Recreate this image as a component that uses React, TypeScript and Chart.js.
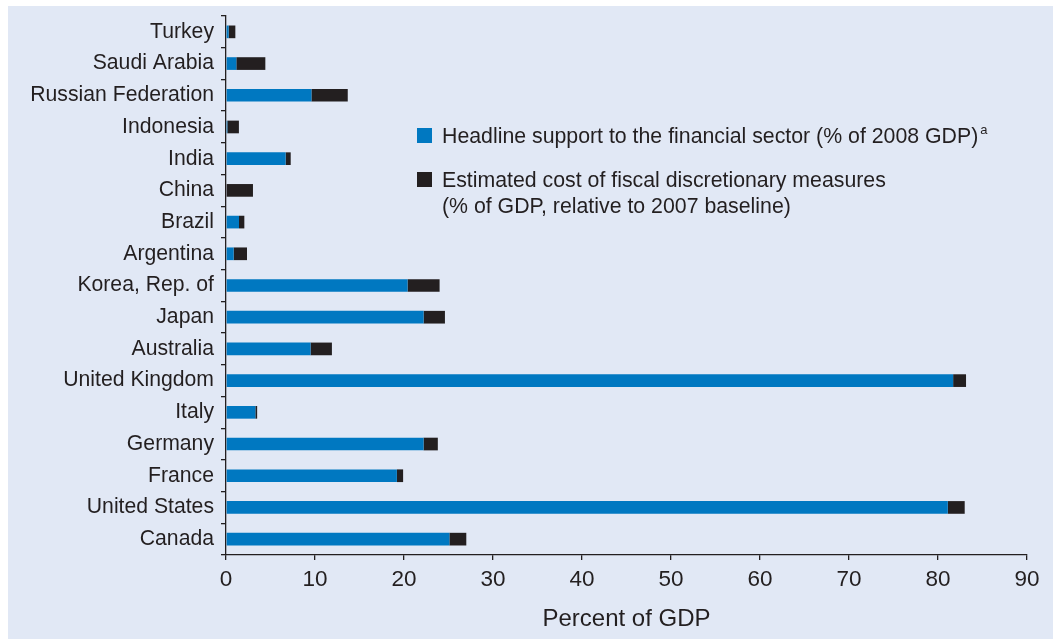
import React, { useEffect, useRef } from "react";
import { Chart, registerables } from "chart.js";

Chart.register(...registerables);

const categories = [
  "Turkey",
  "Saudi Arabia",
  "Russian Federation",
  "Indonesia",
  "India",
  "China",
  "Brazil",
  "Argentina",
  "Korea, Rep. of",
  "Japan",
  "Australia",
  "United Kingdom",
  "Italy",
  "Germany",
  "France",
  "United States",
  "Canada",
];

const headlineSupport = [0.3, 1.16, 9.6, 0.15, 6.7, 0, 1.46, 0.86, 20.4, 22.2, 9.5, 81.7, 3.3, 22.2, 19.2, 81.1, 25.1];
const fiscalCost = [0.75, 3.26, 4.08, 1.3, 0.57, 3.03, 0.6, 1.5, 3.6, 2.4, 2.4, 1.45, 0.2, 1.6, 0.7, 1.9, 1.9];

const xTicks = [0, 10, 20, 30, 40, 50, 60, 70, 80, 90];

const legendLine1 = "Headline support to the financial sector (% of 2008 GDP)";
const legendSup = "a";
const legendLine2a = "Estimated cost of fiscal discretionary measures";
const legendLine2b = "(% of GDP, relative to 2007 baseline)";
const xTitle = "Percent of GDP";

const BLUE = "#0078c1";
const DARK = "#231f20";
const BG = "#e1e8f5";
const FONT = "'Liberation Sans', Arial, Helvetica, sans-serif";

const legendPlugin = {
  id: "customLegend",
  afterDraw(chart: any) {
    const ctx = chart.ctx;
    ctx.save();
    ctx.fillStyle = BLUE;
    ctx.fillRect(409, 122, 15, 15);
    ctx.fillStyle = DARK;
    ctx.fillRect(409, 166, 15, 15);
    ctx.fillStyle = DARK;
    ctx.textAlign = "left";
    ctx.textBaseline = "alphabetic";
    ctx.font = `21.3px ${FONT}`;
    ctx.fillText(legendLine1, 434, 137);
    const w = ctx.measureText(legendLine1).width;
    ctx.fillText(legendLine2a, 434, 181);
    ctx.fillText(legendLine2b, 434, 207);
    ctx.font = `13px ${FONT}`;
    ctx.fillText(legendSup, 434 + w + 2, 128);
    ctx.restore();
  },
};

export default function App() {
  const canvasRef = useRef<HTMLCanvasElement | null>(null);

  useEffect(() => {
    if (!canvasRef.current) return;
    const chart = new Chart(canvasRef.current, {
      type: "bar",
      data: {
        labels: categories,
        datasets: [
          {
            label: legendLine1,
            data: headlineSupport,
            backgroundColor: BLUE,
            barPercentage: 0.4,
            categoryPercentage: 1,
          },
          {
            label: legendLine2a + " " + legendLine2b,
            data: fiscalCost,
            backgroundColor: DARK,
            barPercentage: 0.4,
            categoryPercentage: 1,
          },
        ],
      },
      options: {
        indexAxis: "y",
        animation: false,
        responsive: true,
        maintainAspectRatio: false,
        layout: { padding: { top: 10, right: 26, left: 0, bottom: 0 } },
        plugins: {
          legend: { display: false },
          tooltip: { enabled: false },
          title: { display: false },
        },
        scales: {
          x: {
            stacked: true,
            min: 0,
            max: 90,
            afterBuildTicks: (scale: any) => {
              scale.ticks = xTicks.map((v) => ({ value: v }));
            },
            afterFit: (scale: any) => {
              scale.height = 84;
            },
            border: { display: true, color: DARK, width: 1.3 },
            grid: {
              display: true,
              drawOnChartArea: false,
              drawTicks: true,
              tickLength: 5,
              color: DARK,
              lineWidth: 1.3,
            },
            ticks: {
              color: DARK,
              font: { family: FONT, size: 22.5 },
              padding: 6,
              maxRotation: 0,
            },
            title: {
              display: true,
              text: xTitle,
              color: DARK,
              font: { family: FONT, size: 24 },
              padding: { top: 0, bottom: 5 },
            },
          },
          y: {
            stacked: true,
            afterFit: (scale: any) => {
              scale.width = 218;
              scale.paddingTop = 0;
              scale.paddingBottom = 0;
            },
            border: { display: true, color: DARK, width: 1.3 },
            grid: {
              display: true,
              offset: true,
              drawOnChartArea: false,
              drawTicks: true,
              tickLength: 5,
              color: DARK,
              lineWidth: 1.3,
            },
            ticks: {
              color: DARK,
              font: { family: FONT, size: 21.2 },
              padding: 7,
              autoSkip: false,
            },
          },
        },
      },
      plugins: [legendPlugin],
    } as any);
    return () => chart.destroy();
  }, []);

  return (
    <div
      style={{
        position: "absolute",
        left: 8,
        top: 6,
        width: 1045,
        height: 633,
        background: BG,
      }}
    >
      <canvas ref={canvasRef} />
    </div>
  );
}
